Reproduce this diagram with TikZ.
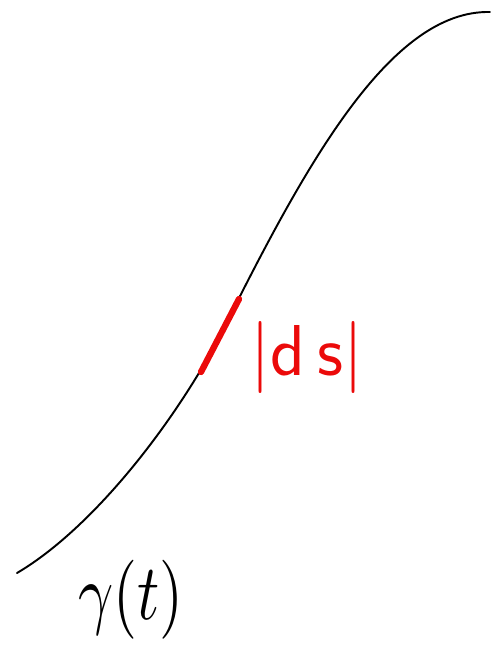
\documentclass[tikz,border=0pt]{standalone}
\usepackage{xcolor}
\usetikzlibrary{math}
\definecolor{myred}{RGB}{235, 10, 10}

\begin{document}
\begin{tikzpicture}[x=0.02cm, y=-0.02cm]
\tikzmath{
\W=498; \H=649;
}
\useasboundingbox (0,0) rectangle (\W,\H);

% the curve gamma(t)
\coordinate (start) at (17,573);
\coordinate (turn) at (220,336);
\coordinate (end) at (490,12);
\draw[line width=1.1pt, line cap=round] (start)
  .. controls (90,530) and (170,430) .. (turn)
  .. controls (305,165) and (390,10) .. (end);

% arc length element
\coordinate (s0) at (201,372);
\coordinate (s1) at (239,299);
\draw[color=myred, line width=3.6pt, line cap=round] (s0) -- (s1);

\node[color=myred, font=\sffamily\fontsize{41}{41}\selectfont] (ds) at (307,357) {|d\,s|};
\node (gamma) at (131,600) {\scalebox{3.5}[4.5]{$\gamma(t)$}};
\end{tikzpicture}
\end{document}
